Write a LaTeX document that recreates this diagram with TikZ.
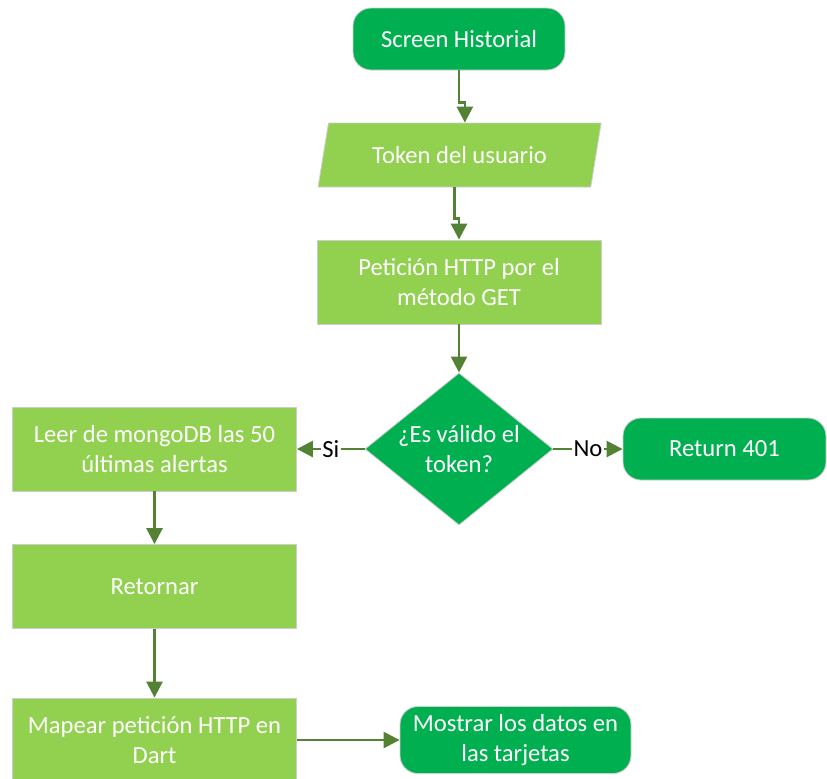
\documentclass[tikz,border=0pt]{standalone}
\usepackage{fontspec}
\setmainfont{Carlito}
\usetikzlibrary{arrows.meta,calc,positioning,shapes.geometric}
\definecolor{verdeoscuro}{RGB}{0,176,80}
\definecolor{verdeclaro}{RGB}{146,208,80}
\definecolor{verdeflecha}{RGB}{84,130,53}
\definecolor{bordegris}{RGB}{205,205,205}

\begin{document}
\begin{tikzpicture}[
  font=\fontsize{17.5}{21.3}\selectfont,
  base/.style={draw=bordegris, line width=0.6pt, text=white, align=center, inner sep=2pt},
  terminal/.style={base, fill=verdeoscuro, rounded corners=0.45cm},
  proceso/.style={base, fill=verdeclaro, minimum width=7.1cm, minimum height=2.1cm},
  datos/.style={base, fill=verdeclaro, trapezium, trapezium left angle=65.6,
    trapezium right angle=114.4, trapezium stretches body,
    minimum width=7.075cm, minimum height=1.6cm},
  decision/.style={base, fill=verdeoscuro, diamond, inner sep=-3pt,
    minimum width=4.7cm, minimum height=3.55cm},
  flecha/.style={draw=verdeflecha, line width=1.9pt, -{Triangle[length=0.4cm,width=0.4cm]}},
  etiqueta/.style={fill=white, inner sep=1pt, text=black}
]
\useasboundingbox (0,0) rectangle (20.675,-19.45);

%--- flujo principal ---
\node[terminal, minimum width=5.3cm, minimum height=1.55cm] (inicio) at (11.475,-0.975) {Screen Historial};
\node[datos] (token) at (11.49,-3.875) {Token del usuario};
\node[proceso] (peticion) at (11.475,-7.05) {Petición HTTP por el\\método GET};
\node[decision] (valido) at (11.475,-11.225) {¿Es válido el\\token?};
\node[terminal, minimum width=5.075cm, minimum height=1.55cm] (error) at (18.1125,-11.225) {Return 401};

%--- rama Si ---
\node[proceso] (leer) at (3.8625,-11.225) {Leer de mongoDB las 50\\últimas alertas};
\node[proceso] (retornar) at (3.8625,-14.6625) {Retornar};
\node[proceso] (mapear) at (3.8625,-18.5) {Mapear petición HTTP en\\Dart};
\node[terminal, minimum width=5.775cm, minimum height=1.675cm] (mostrar) at (12.8875,-18.5) {Mostrar los datos en\\las tarjetas};

%--- conectores ---
\draw[flecha] (inicio.south) -- ++(0,-0.8) -| (token.top side);
\draw[flecha] (token.bottom side) -- ++(0,-0.775) -| (peticion.north);
\draw[flecha] (peticion) -- (valido);
\draw[flecha] (valido) -- node[etiqueta]{Si} (leer);
\draw[flecha] (valido) -- node[etiqueta]{No} (error);
\draw[flecha] (leer) -- (retornar);
\draw[flecha] (retornar) -- (mapear);
\draw[flecha] (mapear) -- (mostrar);
\end{tikzpicture}
\end{document}
